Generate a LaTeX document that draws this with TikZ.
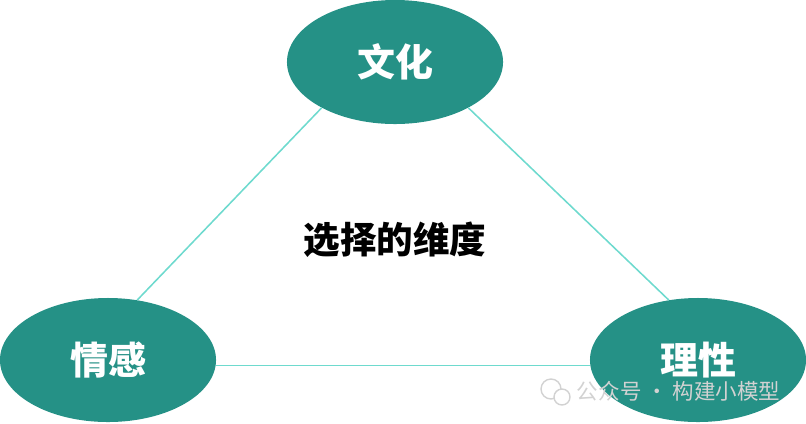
\documentclass[tikz,border=0pt]{standalone}
\usepackage{fontspec}
\usepackage{xcolor}
\usetikzlibrary{shapes.geometric}
\newfontfamily\cjk{Noto Sans CJK SC}

\begin{document}
\begin{tikzpicture}[x=0.025cm,y=-0.025cm]
				% 颜色列表
				\definecolor{mygreen}{RGB}{37,145,134}
				\definecolor{mycyan}{RGB}{110,218,206}
				\definecolor{mygray}{RGB}{210,210,210}
				\tikzset{
					dim/.style={ellipse,fill=mygreen,draw=none,minimum width=5.4cm,minimum height=3.1cm,inner sep=0pt,text=white,font=\cjk\bfseries\fontsize{27}{32}\selectfont},
					edge/.style={draw=mycyan,line width=1.1pt}
				}
				\useasboundingbox (0,0) rectangle (806,423);
				
				% 三个维度
				\node[dim] (wenhua) at (395,62) {文化};
				\node[dim] (qinggan) at (108,360) {情感};
				\node[dim] (lixing) at (698,360) {理性};
				
				% 中间标题
				\node[font=\cjk\bfseries\fontsize{26}{30}\selectfont] (title) at (395,240) {选择的维度};
				
				% 三角形连线
				\draw[edge] (wenhua.212) -- (qinggan.64);
				\draw[edge] (wenhua.328) -- (lixing.116);
				\draw[edge] (qinggan.-3) -- (lixing.183);
				
				% 水印
				\foreach \c/\r in {{551,389}/10,{562,397}/8}
				\filldraw[draw=mygray,fill=white,line width=1pt] (\c) circle (\r);
				\node[anchor=west,text=mygray,font=\cjk\fontsize{15.3}{18}\selectfont] (mark) at (572,391) {公众号 · 构建小模型};
				
			\end{tikzpicture}
\end{document}
